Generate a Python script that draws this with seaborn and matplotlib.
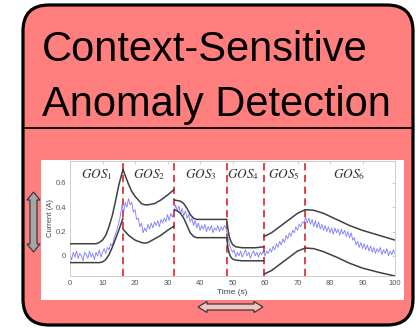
import numpy as np
import pandas as pd
import matplotlib
matplotlib.use("Agg")
import matplotlib.pyplot as plt
import seaborn as sns
from matplotlib.patches import FancyBboxPatch, Rectangle, Polygon
from matplotlib.lines import Line2D

# ---------------- data ----------------
title_lines = ["Context-Sensitive", "Anomaly Detection"]
x_label = "Time (s)"
y_label = "Current (A)"
x_ticks = [0, 10, 20, 30, 40, 50, 60, 70, 80, 90, 100]
y_ticks = [0, 0.2, 0.4, 0.6]
y_tick_labels = ["0", "0.2", "0.4", "0.6"]

boundaries = [16.3, 32.0, 48.2, 59.7, 72.4]
gos_names = [r"$GOS_{1}$", r"$GOS_{2}$", r"$GOS_{3}$", r"$GOS_{4}$", r"$GOS_{5}$", r"$GOS_{6}$"]
gos_centers = [8.1, 24.3, 40.2, 53.3, 65.9, 85.9]

time_step = 0.5
current = [
    # 0 - 9.5
    0.01, -0.03, 0.03, -0.01, 0.04, -0.02, 0.02, 0.00, -0.04, 0.03,
    0.01, -0.02, 0.04, -0.01, 0.02, -0.03, 0.03, 0.00, 0.05, -0.01,
    # 10 - 16
    0.03, 0.06, 0.02, 0.07, 0.05, 0.10, 0.08, 0.14, 0.18, 0.22, 0.27, 0.33, 0.42,
    # 16.5 - 31.5
    0.36, 0.44, 0.40, 0.47, 0.42, 0.44, 0.36, 0.38, 0.30, 0.31, 0.24, 0.27, 0.19,
    0.23, 0.20, 0.26, 0.22, 0.27, 0.23, 0.28, 0.25, 0.29, 0.24, 0.30, 0.27, 0.31,
    0.28, 0.34, 0.29, 0.35, 0.32,
    # 32 - 48
    0.36, 0.42, 0.37, 0.41, 0.35, 0.39, 0.33, 0.37, 0.31, 0.34, 0.28, 0.31, 0.25,
    0.29, 0.23, 0.27, 0.21, 0.25, 0.22, 0.26, 0.20, 0.24, 0.21, 0.25, 0.19, 0.23,
    0.21, 0.25, 0.20, 0.24, 0.21, 0.25, 0.23,
    # 48.5 - 59.5
    0.17, 0.10, 0.06, 0.03, 0.05, -0.01, 0.03, 0.00, 0.04, -0.01, 0.02, 0.05,
    0.00, 0.03, -0.02, 0.02, 0.04, 0.00, 0.03, -0.01, 0.03, 0.01, 0.04,
    # 60 - 72
    0.00, 0.04, 0.02, 0.06, 0.03, 0.08, 0.05, 0.10, 0.07, 0.12, 0.09, 0.14, 0.11,
    0.17, 0.14, 0.19, 0.16, 0.21, 0.19, 0.24, 0.21, 0.26, 0.24, 0.28, 0.27,
    # 72.5 - 100
    0.32, 0.27, 0.31, 0.26, 0.30, 0.24, 0.29, 0.23, 0.28, 0.22, 0.26, 0.21, 0.25,
    0.20, 0.24, 0.19, 0.23, 0.18, 0.23, 0.19, 0.22, 0.17, 0.22, 0.18, 0.21, 0.16,
    0.20, 0.15, 0.19, 0.13, 0.15, 0.09, 0.12, 0.07, 0.11, 0.06, 0.10, 0.05, 0.09,
    0.04, 0.08, 0.03, 0.07, 0.02, 0.06, 0.03, 0.07, 0.01, 0.05, 0.02, 0.06, 0.00,
    0.04, 0.01, 0.05, 0.02,
]

# envelope segments: (times, upper values, lower values)
seg1_t = [0, 8, 9, 10, 11, 12, 13, 14, 15, 16.3]
seg1_up = [0.10, 0.10, 0.11, 0.13, 0.17, 0.24, 0.33, 0.45, 0.58, 0.71]
seg1_lo = [-0.055, -0.055, -0.055, -0.05, -0.03, 0.01, 0.07, 0.14, 0.21, 0.31]

seg2_t = [16.3, 17, 18, 19, 20, 21, 22, 23, 24, 26, 28, 30, 32]
seg2_up = [0.71, 0.66, 0.59, 0.53, 0.49, 0.46, 0.43, 0.42, 0.42, 0.43, 0.46, 0.50, 0.545]
seg2_lo = [0.22, 0.20, 0.17, 0.15, 0.13, 0.12, 0.11, 0.105, 0.11, 0.14, 0.17, 0.21, 0.245]

seg3_t = [32, 33, 34, 35, 36, 37, 38, 39, 48.2]
seg3_up = [0.46, 0.455, 0.45, 0.43, 0.39, 0.34, 0.31, 0.30, 0.30]
seg3_lo = [0.38, 0.37, 0.35, 0.31, 0.25, 0.19, 0.16, 0.15, 0.15]

seg4_t = [48.2, 48.6, 49, 49.5, 50, 51, 53, 57, 59.7]
seg4_up = [0.30, 0.22, 0.16, 0.12, 0.095, 0.075, 0.067, 0.067, 0.075]
seg4_lo = [0.15, 0.07, 0.02, -0.01, -0.025, -0.035, -0.04, -0.04, -0.04]

seg5_t = [59.7, 62, 65, 68, 70, 72.4]
seg5_up = [0.16, 0.19, 0.25, 0.31, 0.35, 0.38]
seg5_lo = [-0.15, -0.12, -0.06, 0.0, 0.04, 0.065]

seg6_t = [72.4, 75, 78, 82, 86, 90, 95, 100]
seg6_up = [0.38, 0.375, 0.35, 0.30, 0.25, 0.21, 0.17, 0.13]
seg6_lo = [0.065, 0.06, 0.035, -0.01, -0.06, -0.10, -0.135, -0.165]

segments = [
    (seg1_t, seg1_up, seg1_lo), (seg2_t, seg2_up, seg2_lo), (seg3_t, seg3_up, seg3_lo),
    (seg4_t, seg4_up, seg4_lo), (seg5_t, seg5_up, seg5_lo), (seg6_t, seg6_up, seg6_lo),
]

# ---------------- tables ----------------
signal = pd.DataFrame({"t": np.arange(len(current)) * time_step, "current": current})
rows = []
for i, (ts, up, lo) in enumerate(segments):
    for t, v in zip(ts, up):
        rows.append({"t": t, "v": v, "key": f"{i}-up"})
    for t, v in zip(ts, lo):
        rows.append({"t": t, "v": v, "key": f"{i}-lo"})
envelope = pd.DataFrame(rows)

# ---------------- style ----------------
sns.set_style("white")
plt.rcParams["font.family"] = ["Liberation Sans", "DejaVu Sans"]
plt.rcParams["mathtext.fontset"] = "stix"

W, H = 418, 328
fig = plt.figure(figsize=(W / 100, H / 100), dpi=100)
fig.patch.set_facecolor("white")
T = fig.dpi_scale_trans


def P(px, py):
    return (px / 100.0, (H - py) / 100.0)


# rounded red box
x0, y0 = P(23, 325)
box = FancyBboxPatch((x0, y0), 3.90, 3.20, boxstyle="round,pad=0,rounding_size=0.26",
                     fc="#FF7F7F", ec="black", lw=2.3, transform=T, zorder=0)
fig.add_artist(box)
fig.add_artist(Line2D([0.23, 4.13], [P(0, 128)[1]] * 2, color="black", lw=1.3, transform=T))

# title
bx, by = P(42, 61)
fig.text(bx, by, title_lines[0], transform=T, fontsize=30, va="baseline", ha="left", color="black")
bx, by = P(42, 116)
fig.text(bx, by, title_lines[1], transform=T, fontsize=30, va="baseline", ha="left", color="black")

# white inset
ix, iy = P(41, 300)
fig.add_artist(Rectangle((ix, iy), 3.63, 1.40, fc="white", ec="none", transform=T, zorder=1))


def double_arrow(c, a0, a1, s, h, L, vertical, fc):
    pts = [(a0, 0), (a0 + L, h), (a0 + L, s), (a1 - L, s), (a1 - L, h), (a1, 0),
           (a1 - L, -h), (a1 - L, -s), (a0 + L, -s), (a0 + L, -h)]
    if vertical:
        pts = [P(c + d, a) for a, d in pts]
    else:
        pts = [P(a, c + d) for a, d in pts]
    fig.add_artist(Polygon(pts, closed=True, fc=fc, ec="#3a3a3a", lw=0.9, transform=T, zorder=3))


double_arrow(33.5, 192, 252, 3.5, 6.5, 8, True, "#A6A6A6")
double_arrow(307, 198, 263, 3.0, 5.5, 9, False, "#F2C4C4")

# ---------------- chart ----------------
ax = fig.add_axes([70 / W, (H - 276) / H, 325 / W, 115 / H])
ax.set_zorder(2)
ax.set_facecolor("white")

for b in boundaries:
    ax.axvline(b, color="#E03535", lw=1.3, ls=(0, (4, 2.5)), zorder=1)

sns.lineplot(data=signal, x="t", y="current", ax=ax, color="#5a5aff", lw=0.6, alpha=0.8, zorder=2)
sns.lineplot(data=envelope, x="t", y="v", units="key", estimator=None, sort=False, ax=ax,
             color="#404040", lw=1.1, zorder=3)

for name, cx in zip(gos_names, gos_centers):
    ax.text(cx, 0.885, name, transform=ax.get_xaxis_transform(), ha="center", va="center",
            fontsize=9.5, color="#333333")

ax.set_xlim(0, 100)
ax.set_ylim(-0.165, 0.78)
ax.set_xticks(x_ticks)
ax.set_yticks(y_ticks)
ax.set_yticklabels(y_tick_labels)
ax.tick_params(direction="in", length=2, width=0.5, color="#bbbbbb", labelsize=5.5,
               labelcolor="#555555", pad=3, top=True, right=True)
for sp in ax.spines.values():
    sp.set_color("#c8c8c8")
    sp.set_linewidth(0.6)
ax.set_xlabel(x_label, fontsize=6, color="#444444", labelpad=1)
ax.set_ylabel(y_label, fontsize=5.5, color="#444444", labelpad=1)

fig.savefig("out.png", dpi=100, facecolor="white")
